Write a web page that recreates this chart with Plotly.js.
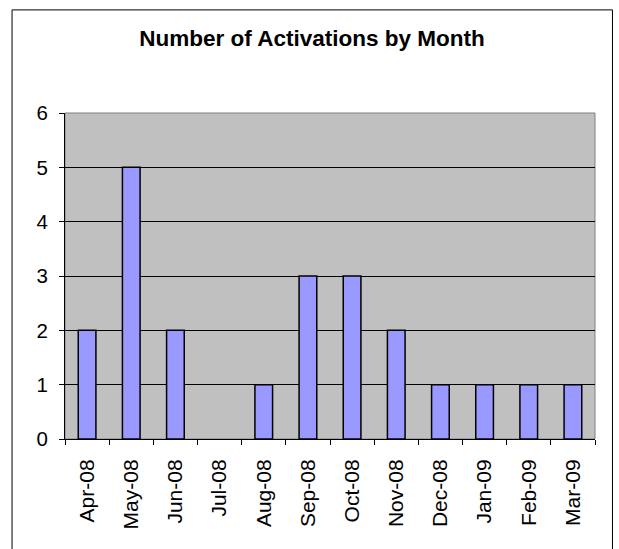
<!DOCTYPE html>
<html>
<head>
<meta charset="utf-8">
<script src="https://cdn.plot.ly/plotly-3.0.1.min.js"></script>
<style>html,body{margin:0;padding:0;background:#fff;}#chart{width:619px;height:549px;}</style>
</head>
<body>
<div id="chart"></div>
<script>
const months = ["Apr-08","May-08","Jun-08","Jul-08","Aug-08","Sep-08","Oct-08","Nov-08","Dec-08","Jan-09","Feb-09","Mar-09"];
const activations = [2,5,2,0,1,3,3,2,1,1,1,1];
const yTicks = [0,1,2,3,4,5,6];
const chartTitle = "Number of Activations by Month";

const font = "Liberation Sans, Arial, sans-serif";

const trace = {
  type: "bar",
  x: months,
  y: activations,
  marker: {
    color: "#9999FF",
    line: {color: "#000000", width: activations.map(v => v === 0 ? 0 : 1.5)}
  },
  hoverinfo: "x+y"
};

const layout = {
  width: 619, height: 549,
  margin: {l: 64.5, r: 24, t: 112.7, b: 110, pad: 0},
  paper_bgcolor: "#ffffff",
  plot_bgcolor: "#C0C0C0",
  showlegend: false,
  bargap: 0.6,
  title: {
    text: "<b>" + chartTitle + "</b>",
    font: {family: font, size: 22.5, color: "#000"},
    x: 312/619, xref: "container", xanchor: "center",
    y: 1 - 38/549, yref: "container", yanchor: "middle"
  },
  xaxis: {
    type: "category",
    tickson: "boundaries",
    ticks: "outside", ticklen: 5, tickcolor: "#000", tickwidth: 1,
    tickangle: -90,
    tickfont: {family: font, size: 21, color: "#000"},
    showline: true, linecolor: "#000", linewidth: 1,
    showgrid: false, zeroline: false,
    ticklabelstandoff: 11
  },
  yaxis: {
    range: [0, 6],
    tickvals: yTicks,
    ticktext: yTicks.map(String),
    ticks: "outside", ticklen: 5, tickcolor: "#000", tickwidth: 1,
    tickfont: {family: font, size: 20.5, color: "#000"},
    showline: true, linecolor: "#000", linewidth: 1,
    showgrid: true, gridcolor: "#000", gridwidth: 1,
    zeroline: false,
    ticklabelstandoff: 7
  },
  shapes: [
    {type: "rect", xref: "paper", yref: "paper", x0: 0, x1: 1, y0: 0, y1: 1,
     line: {color: "#808080", width: 1}, layer: "below"},
    {type: "rect", xref: "paper", yref: "paper",
     x0: (11.5 - 64.5)/530.5, x1: (612.5 - 64.5)/530.5,
     y0: -0.5, y1: (439 - 9.5)/326.3,
     line: {color: "#000", width: 1}, layer: "below"}
  ]
};

Plotly.newPlot("chart", [trace], layout, {staticPlot: true, displayModeBar: false});
</script>
</body>
</html>
